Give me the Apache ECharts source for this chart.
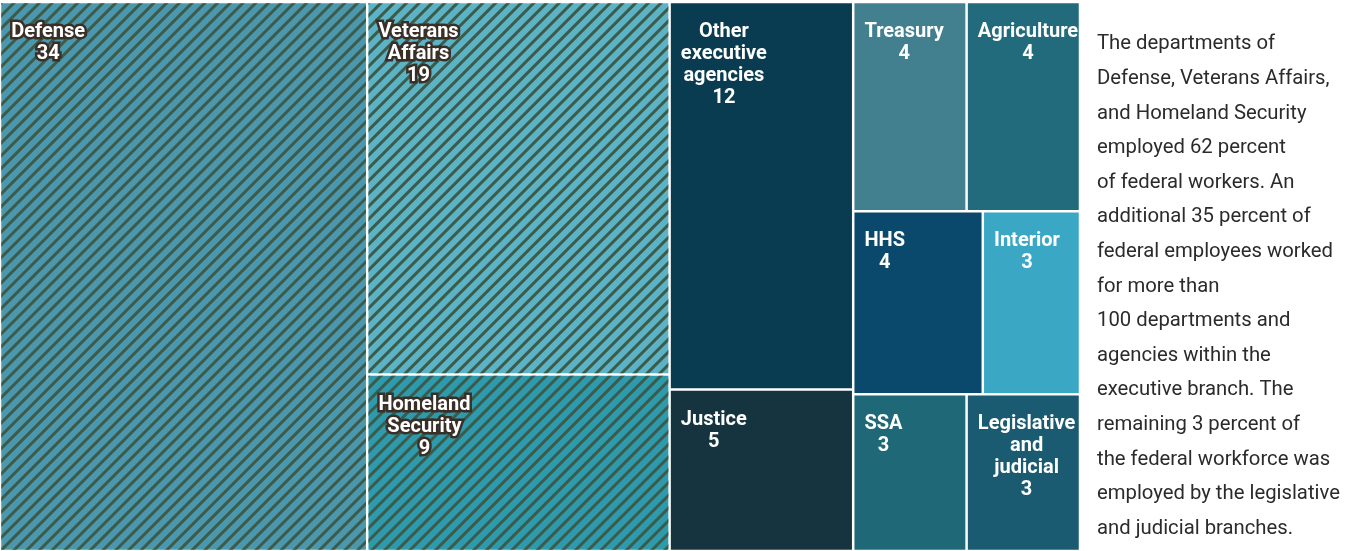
<!DOCTYPE html>
<html>
<head>
<meta charset="utf-8">
<script src="https://cdn.jsdelivr.net/npm/echarts@6/dist/echarts.min.js"></script>
<style>
  html, body { margin: 0; padding: 0; background: #fff; }
  #main { width: 1352px; height: 551px; }
</style>
</head>
<body>
<div id="main"></div>
<script>
// share of federal workforce, percent
var names = ['Defense', 'Veterans\nAffairs', 'Homeland\nSecurity', 'Other\nexecutive\nagencies', 'Justice',
             'Treasury', 'Agriculture', 'HHS', 'Interior', 'SSA', 'Legislative\nand\njudicial'];
var values = [34, 19, 9, 12, 5, 4, 4, 4, 3, 3, 3];
var colors = ['#4a97ae', '#5cb3c6', '#2d9aae', '#093c50', '#15343f',
              '#42808f', '#216b7c', '#0a496c', '#3aa8c5', '#1e6878', '#1b5b71'];
var hatched = [true, true, true, false, false, false, false, false, false, false, false];

// block structure of the treemap (numbers are indexes into names)
var groups = [[0, [1, 2]], [[3, 4], [5, 6, 7, 8, 9, 10]]];

var note = [
  'The departments of',
  'Defense, Veterans Affairs,',
  'and Homeland Security',
  'employed 62 percent',
  'of federal workers. An',
  'additional 35 percent of',
  'federal employees worked',
  'for more than',
  '100 departments and',
  'agencies within the',
  'executive branch. The',
  'remaining 3 percent of',
  'the federal workforce was',
  'employed by the legislative',
  'and judicial branches.'
];

var labelFont = 'bold 20px Roboto';
var ctx = document.createElement('canvas').getContext('2d');
ctx.font = labelFont;

var stripes = {
  symbol: 'rect', symbolSize: 1,
  dashArrayX: [1, 0], dashArrayY: [3, 6],
  rotation: -Math.PI / 4,
  color: '#3c5b4a'
};

function build(node) {
  if (typeof node === 'number') {
    var lines = names[node].split('\n').concat([String(values[node])]);
    var w = Math.max.apply(null, lines.map(function (l) { return ctx.measureText(l).width; }));
    var style = { color: colors[node], borderColor: '#fff', borderWidth: 1.25 };
    var label = { position: [10 + w / 2, 13] };
    if (hatched[node]) {
      style.decal = stripes;
      label.textBorderColor = '#3a2f27';
      label.textBorderWidth = 5;
    }
    return { name: names[node], value: values[node], itemStyle: style, label: label };
  }
  return { name: '', children: node.map(build) };
}

var myChart = echarts.init(document.getElementById('main'));

myChart.setOption({
  animation: false,
  series: [{
    type: 'treemap',
    left: 0,
    top: 2,
    width: 1080,
    height: 549,
    squareRatio: 1.341,
    sort: false,
    roam: false,
    nodeClick: false,
    silent: true,
    breadcrumb: { show: false },
    itemStyle: { borderWidth: 0, gapWidth: 0 },
    label: {
      show: true,
      align: 'center',
      verticalAlign: 'top',
      overflow: 'none',
      color: '#fff',
      fontFamily: 'Roboto',
      fontWeight: 'bold',
      fontSize: 20,
      lineHeight: 22,
      formatter: function (p) { return p.name + '\n' + p.value; }
    },
    data: groups.map(build)
  }],
  graphic: [{
    type: 'text',
    left: 1097,
    top: 27,
    style: {
      text: note.join('\n'),
      fontFamily: 'Roboto',
      fontSize: 20.3,
      lineHeight: 34.6,
      fill: '#2b2b2b'
    }
  }]
});
</script>
</body>
</html>
